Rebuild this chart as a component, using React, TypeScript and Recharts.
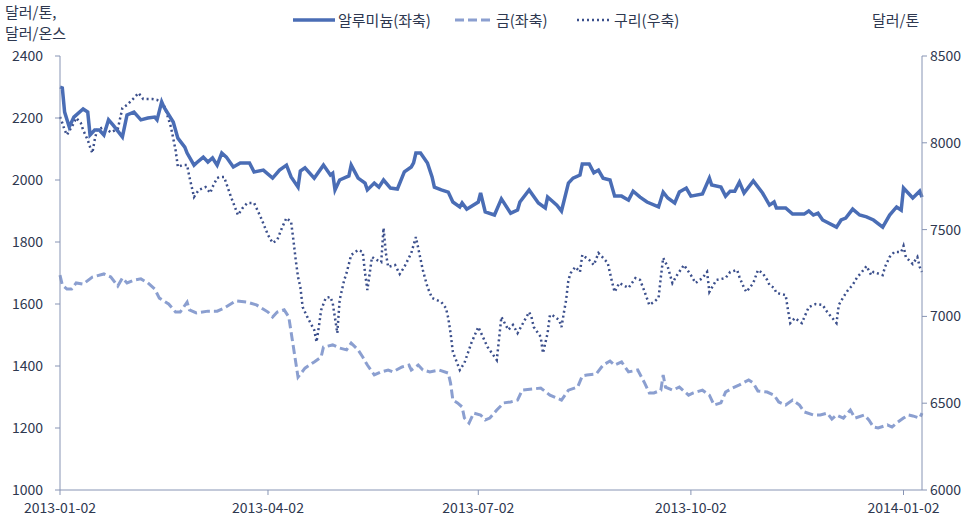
import React from "react";
import { LineChart, Line, XAxis, YAxis } from "recharts";

// x: days since 2013-01-02
const tickDays = [0, 90, 181, 273, 365];
const tickLabels = ["2013-01-02", "2013-04-02", "2013-07-02", "2013-10-02", "2014-01-02"];
const leftTicks = [1000, 1200, 1400, 1600, 1800, 2000, 2200, 2400];
const rightTicks = [6000, 6500, 7000, 7500, 8000, 8500];

const alDays = [
  0, 1, 2, 4, 6, 10, 12, 13, 15, 17, 19, 21, 23, 27, 29, 32, 35, 38, 41, 42, 44, 45, 49, 51, 54, 55, 58, 59,
  62, 64, 66, 68, 70, 72, 75, 78, 82, 84, 88, 92, 95, 98, 100, 103, 104, 106, 110, 114, 117, 118, 119, 121,
  125, 126, 129, 132, 133, 136, 138, 140, 143, 146, 149, 152, 153, 154, 156, 159, 161, 162, 165, 168, 170,
  173, 174, 176, 181, 182, 184, 188, 191, 195, 198, 199, 203, 207, 210, 211, 215, 217, 220, 222, 225, 226,
  229, 231, 233, 235, 238, 240, 243, 246, 248, 251, 254, 259, 261, 263, 266, 268, 271, 273, 278, 281, 282,
  286, 288, 290, 292, 294, 296, 300, 304, 307, 309, 310, 314, 317, 322, 324, 326, 328, 330, 336, 338, 340,
  343, 346, 349, 352, 356, 359, 362, 364, 365, 369, 372, 373,
];
const alValues = [
  2300, 2297, 2219, 2171, 2203, 2229, 2219, 2145, 2161, 2161, 2145, 2194, 2177, 2139, 2210, 2219, 2194, 2200,
  2203, 2194, 2252, 2235, 2187, 2135, 2106, 2087, 2048, 2055, 2074, 2058, 2071, 2048, 2087, 2074, 2042, 2055,
  2055, 2026, 2032, 2006, 2032, 2048, 2010, 1977, 2029, 2039, 2006, 2048, 2016, 2022, 1968, 2000, 2013, 2048,
  2006, 1990, 1968, 1990, 1977, 2000, 1974, 1971, 2026, 2042, 2055, 2087, 2087, 2055, 2010, 1977, 1968, 1961,
  1929, 1913, 1926, 1906, 1929, 1958, 1897, 1887, 1939, 1893, 1903, 1929, 1968, 1926, 1910, 1945, 1919, 1900,
  1990, 2006, 2016, 2052, 2052, 2023, 2032, 2006, 2000, 1948, 1948, 1935, 1964, 1945, 1929, 1913, 1961, 1942,
  1926, 1961, 1974, 1948, 1955, 2006, 1984, 1977, 1948, 1964, 1964, 1993, 1958, 1997, 1958, 1919, 1929, 1910,
  1910, 1890, 1890, 1900, 1887, 1893, 1871, 1848, 1871, 1877, 1906, 1887, 1881, 1871, 1848, 1887, 1913, 1903,
  1974, 1942, 1964, 1945,
];

const goldDays = [
  0, 1, 3, 5, 7, 10, 14, 19, 22, 25, 27, 29, 32, 35, 38, 41, 43, 47, 50, 52, 55, 56, 59, 64, 68, 71, 76, 81,
  85, 90, 92, 94, 97, 99, 101, 103, 106, 110, 113, 114, 118, 121, 124, 126, 129, 131, 133, 136, 139, 142, 144,
  148, 151, 152, 155, 157, 160, 164, 168, 169, 170, 172, 174, 175, 177, 179, 182, 184, 186, 189, 192, 195, 198,
  200, 205, 208, 212, 217, 220, 224, 226, 228, 232, 235, 238, 240, 243, 246, 250, 253, 255, 257, 260, 261, 262,
  265, 268, 272, 274, 278, 281, 283, 286, 288, 291, 294, 298, 300, 302, 306, 309, 311, 314, 317, 320, 322, 326,
  329, 332, 334, 336, 339, 342, 344, 348, 350, 352, 354, 358, 360, 362, 365, 367, 369, 372, 373,
];
const goldValues = [
  1693, 1661, 1648, 1648, 1668, 1664, 1687, 1697, 1687, 1658, 1684, 1668, 1677, 1681, 1668, 1648, 1619, 1600,
  1574, 1574, 1606, 1581, 1571, 1577, 1577, 1587, 1610, 1606, 1597, 1574, 1558, 1574, 1581, 1558, 1461, 1364,
  1393, 1413, 1429, 1461, 1468, 1458, 1452, 1474, 1452, 1429, 1403, 1371, 1381, 1387, 1381, 1397, 1403, 1387,
  1403, 1387, 1381, 1387, 1377, 1345, 1290, 1281, 1268, 1232, 1216, 1248, 1242, 1226, 1232, 1258, 1281, 1284,
  1290, 1322, 1326, 1329, 1306, 1290, 1322, 1332, 1368, 1371, 1374, 1403, 1416, 1403, 1413, 1381, 1387, 1345,
  1313, 1313, 1322, 1371, 1332, 1322, 1332, 1306, 1313, 1322, 1306, 1274, 1281, 1316, 1329, 1339, 1355, 1345,
  1319, 1316, 1306, 1284, 1274, 1290, 1274, 1252, 1242, 1242, 1248, 1229, 1242, 1232, 1258, 1232, 1242, 1226,
  1203, 1200, 1210, 1203, 1216, 1232, 1242, 1239, 1232, 1248,
];

const cuDays = [
  0, 1, 2, 3, 6, 7, 9, 10, 12, 13, 14, 15, 16, 19, 22, 25, 27, 29, 32, 34, 36, 40, 42, 45, 46, 48, 50, 51, 53,
  55, 56, 58, 60, 63, 65, 66, 68, 69, 71, 74, 77, 79, 81, 84, 87, 90, 92, 94, 96, 98, 100, 101, 102, 103, 104,
  105, 107, 110, 111, 112, 113, 115, 117, 118, 120, 121, 123, 124, 126, 129, 131, 132, 133, 135, 137, 139, 140,
  141, 142, 145, 147, 149, 152, 154, 155, 157, 159, 161, 163, 165, 167, 168, 169, 170, 173, 175, 178, 181, 185,
  189, 191, 194, 196, 198, 203, 204, 205, 208, 209, 211, 212, 213, 216, 217, 218, 219, 220, 221, 223, 225, 226,
  229, 231, 233, 235, 237, 239, 240, 242, 246, 249, 251, 253, 255, 257, 259, 260, 261, 263, 265, 267, 270, 273,
  275, 278, 280, 281, 284, 288, 290, 293, 294, 296, 297, 300, 302, 304, 306, 307, 309, 310, 314, 315, 316, 318,
  321, 324, 327, 330, 332, 336, 337, 339, 341, 343, 345, 347, 349, 351, 352, 356, 357, 359, 361, 364, 365, 366,
  369, 371, 372, 373,
];
const cuValues = [
  8149, 8114, 8074, 8045, 8114, 8143, 8114, 8074, 8016, 7976, 7941, 8016, 8074, 8091, 8060, 8080, 8200, 8218,
  8258, 8287, 8252, 8252, 8247, 8218, 8177, 8091, 7959, 7861, 7872, 7872, 7803, 7688, 7728, 7745, 7711, 7745,
  7797, 7803, 7803, 7688, 7584, 7624, 7653, 7653, 7567, 7469, 7423, 7440, 7509, 7567, 7544, 7440, 7325, 7227,
  7169, 7054, 6997, 6922, 6853, 6939, 7037, 7106, 7112, 7077, 6904, 7094, 7210, 7250, 7354, 7383, 7371, 7250,
  7152, 7342, 7325, 7313, 7509, 7365, 7285, 7296, 7244, 7285, 7365, 7457, 7394, 7267, 7169, 7106, 7094, 7083,
  7048, 6991, 6904, 6795, 6691, 6732, 6847, 6939, 6824, 6749, 6997, 6922, 6951, 6904, 7025, 6997, 6939, 6882,
  6789, 6904, 7008, 7008, 6979, 6939, 7019, 7094, 7210, 7250, 7285, 7256, 7354, 7325, 7296, 7365, 7337, 7308,
  7192, 7141, 7192, 7164, 7221, 7210, 7141, 7066, 7083, 7106, 7227, 7337, 7285, 7192, 7238, 7296, 7238, 7192,
  7221, 7256, 7141, 7210, 7221, 7256, 7267, 7227, 7164, 7141, 7192, 7267, 7250, 7210, 7181, 7164, 7135, 7123,
  7037, 6962, 6991, 6962, 7054, 7071, 7066, 7025, 6962, 7066, 7112, 7152, 7181, 7227, 7256, 7290, 7238, 7256,
  7238, 7285, 7342, 7371, 7371, 7406, 7342, 7302, 7342, 7285, 7256,
];

const alData = alDays.map((d, i) => ({ day: d, al: alValues[i] }));
const goldData = goldDays.map((d, i) => ({ day: d, gold: goldValues[i] }));
const cuData = cuDays.map((d, i) => ({ day: d, cu: cuValues[i] }));

const AL_COLOR = "#4a6db5";
const GOLD_COLOR = "#8b9fd0";
const CU_COLOR = "#3b4f8c";
const AXIS_COLOR = "#8794b4";
const TEXT_COLOR = "#2e3850";
const FONT = "'Noto Sans CJK KR', 'Noto Sans', sans-serif";

// legend: label, colour, dash, left edge of sample line, sample length
const legendItems = [
  { name: "알루미늄(좌축)", color: AL_COLOR, dash: undefined, width: 3.5, left: 293, len: 42 },
  { name: "금(좌축)", color: GOLD_COLOR, dash: "9 4", width: 3, left: 455, len: 38 },
  { name: "구리(우축)", color: CU_COLOR, dash: "2 3", width: 2.5, left: 577, len: 34 },
];

function ChartLegend() {
  return (
    <>
      {legendItems.map((it) => (
        <div
          key={it.name}
          style={{
            position: "absolute",
            left: it.left,
            top: 9,
            display: "flex",
            alignItems: "center",
            fontFamily: FONT,
            fontSize: 15,
            color: TEXT_COLOR,
            whiteSpace: "nowrap",
            lineHeight: "22px",
          }}
        >
          <svg width={it.len} height={10} style={{ marginRight: 3 }}>
            <line x1={0} y1={5} x2={it.len} y2={5} stroke={it.color} strokeWidth={it.width} strokeDasharray={it.dash} />
          </svg>
          {it.name}
        </div>
      ))}
    </>
  );
}

export default function App() {
  const tickStyle = { fontSize: 14, fill: TEXT_COLOR, fontFamily: FONT };
  return (
    <div style={{ position: "absolute", left: 0, top: 0, width: 975, height: 524, background: "#fff" }}>
      <div style={{ position: "absolute", left: 5, top: 1, fontFamily: FONT, fontSize: 15, color: TEXT_COLOR, lineHeight: "21px" }}>
        달러/톤,
        <br />
        달러/온스
      </div>
      <div style={{ position: "absolute", left: 872, top: 9, fontFamily: FONT, fontSize: 15, color: TEXT_COLOR, lineHeight: "22px" }}>
        달러/톤
      </div>
      <ChartLegend />
      <LineChart width={975} height={524} margin={{ top: 56, right: 0, bottom: 0, left: 0 }}>
        <XAxis
          dataKey="day"
          type="number"
          domain={[0, 373]}
          ticks={tickDays}
          tickFormatter={(v) => tickLabels[tickDays.indexOf(v)] ?? ""}
          stroke={AXIS_COLOR}
          tick={tickStyle}
          tickSize={5}
          tickMargin={8}
          height={34}
        />
        <YAxis
          yAxisId="L"
          orientation="left"
          domain={[1000, 2400]}
          ticks={leftTicks}
          width={60}
          stroke={AXIS_COLOR}
          tick={tickStyle}
          tickSize={5}
          tickMargin={12}
        />
        <YAxis
          yAxisId="R"
          orientation="right"
          domain={[6000, 8500]}
          ticks={rightTicks}
          width={53}
          stroke={AXIS_COLOR}
          tick={tickStyle}
          tickSize={5}
          tickMargin={3}
        />
        <Line
          yAxisId="L"
          data={goldData}
          dataKey="gold"
          stroke={GOLD_COLOR}
          strokeWidth={3}
          strokeDasharray="9 4"
          dot={false}
          isAnimationActive={false}
        />
        <Line
          yAxisId="R"
          data={cuData}
          dataKey="cu"
          stroke={CU_COLOR}
          strokeWidth={2.5}
          strokeDasharray="2 3"
          dot={false}
          isAnimationActive={false}
        />
        <Line
          yAxisId="L"
          data={alData}
          dataKey="al"
          stroke={AL_COLOR}
          strokeWidth={3.5}
          dot={false}
          isAnimationActive={false}
        />
      </LineChart>
    </div>
  );
}
